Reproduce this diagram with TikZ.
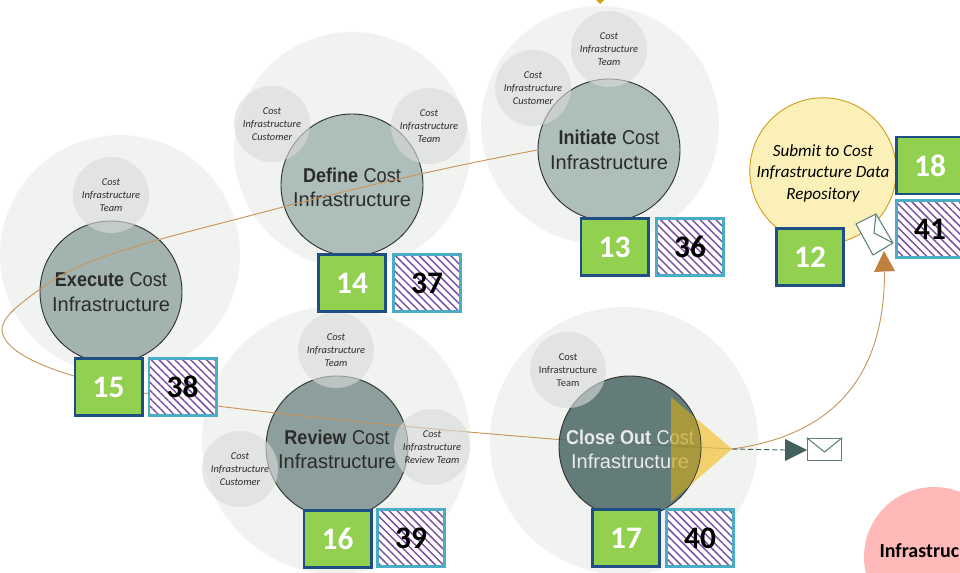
\documentclass[tikz,border=0pt]{standalone}
\usepackage{fontspec}
\setmainfont{Liberation Sans}
\newfontfamily\calib{Carlito}
\newfontfamily\narrowbold[FakeStretch=0.9]{Liberation Sans Bold}
\newfontfamily\narrowreg[FakeStretch=0.91]{Liberation Sans}
\newcommand{\headw}[1]{{\narrowbold #1}}
\newcommand{\costw}{{\narrowreg Cost}}
\usetikzlibrary{patterns.meta,shapes.geometric}
\definecolor{halo}{HTML}{F1F3F0}
\definecolor{smallc}{HTML}{D9DBD9}
\definecolor{cA}{HTML}{A3B3AF}
\definecolor{cB}{HTML}{AEBEBA}
\definecolor{cC}{HTML}{8D9F9D}
\definecolor{cD}{HTML}{637B79}
\definecolor{ink}{HTML}{2B2B2B}
\definecolor{conn}{HTML}{C8955C}
\definecolor{navy}{HTML}{1F4E85}
\definecolor{green1}{HTML}{92D050}
\definecolor{sky}{HTML}{4BACC6}
\definecolor{purp}{HTML}{7B4FA3}
\definecolor{goldl}{HTML}{F2D06B}
\definecolor{goldm}{HTML}{C8A726}
\definecolor{paley}{HTML}{FAF0B8}
\definecolor{goldd}{HTML}{D0A020}
\definecolor{teal1}{HTML}{43605F}
\definecolor{tealenv}{HTML}{5F7F7E}
\definecolor{tip}{HTML}{BF8040}
\definecolor{pinkc}{HTML}{FFB9B9}
\tikzset{
  x=0.75pt,y=-0.75pt,
  halocirc/.style={circle,fill=halo,draw=none,minimum size=#1*0.75pt,inner sep=0pt},
  maincirc/.style={circle,draw=black!80,line width=0.7pt,minimum size=106.5pt,inner sep=0pt,align=center,
     font=\fontsize{15}{18.5}\selectfont,text=ink},
  subcirc/.style={circle,fill=smallc,fill opacity=0.62,text opacity=1,draw=none,minimum size=57pt,inner sep=0pt,align=center,
     font=\calib\itshape\fontsize{7.8}{9.7}\selectfont,text=ink},
  greenbox/.style={draw=navy,fill=green1,line width=1.9pt,minimum width=50.6pt,minimum height=43pt,inner sep=0pt,
     text=white,font=\calib\bfseries\fontsize{23.5}{25}\selectfont},
  hatchbox/.style={draw=sky,line width=1.9pt,minimum width=50.6pt,minimum height=43pt,inner sep=0pt,
     preaction={fill=white},pattern={Lines[angle=-45,distance=4.2pt,line width=1.1pt]},pattern color=purp,
     text=black,font=\calib\bfseries\fontsize{23.5}{25}\selectfont},
  link/.style={draw=conn,line width=0.7pt},
  envelope/.style={draw=tealenv,fill=white,line width=0.8pt},
}
\begin{document}
\begin{tikzpicture}
\clip (0,0) rectangle (960,573);
% halos
\node[halocirc=240] (hE) at (120,255) {};
\node[halocirc=236] (hD) at (352,150) {};
\node[halocirc=238] (hI) at (600,125) {};
\node[halocirc=268] (hR) at (336,440) {};
\node[halocirc=268] (hC) at (624,441) {};
% pink circle
\node[circle,fill=pinkc,minimum size=105pt,inner sep=0pt] (pink) at (934,557) {};
\node[anchor=east,inner sep=0pt,font=\calib\bfseries\fontsize{15}{17}\selectfont,text=black] (pinktxt) at (959.5,551) {Infrastruc};
% top tip
\fill[goldd] (596,0) -- (604,0) -- (600,4) -- cycle;
% yellow triangle, below the circle it overlaps
\fill[goldl] (671,397) -- (671,502) -- (732,449) -- cycle;
\coordinate (tipY) at (732,449);
% main circles
\node[maincirc,fill=cB] (define) at (352,185) {\rule{0pt}{14.5pt}\headw{Define} \costw\\Infrastructure};
\node[maincirc,fill=cB] (initiate) at (609,150) {\headw{Initiate} \costw\\Infrastructure};
\node[maincirc,fill=cA] (execute) at (111,292) {\headw{Execute} \costw\\Infrastructure};
\node[maincirc,fill=cC] (review) at (337,447) {\rule{0pt}{14.5pt}\headw{Review} \costw\\Infrastructure};
\node[maincirc,fill=cD,text=white!92!black] (close) at (630,447) {\rule{0pt}{14.5pt}\headw{Close Out} \costw\\Infrastructure};
\begin{scope}
\clip (630,447) circle (53pt);
\fill[goldm,fill opacity=0.7] (671,397) -- (671,502) -- (732,449) -- cycle;
\end{scope}
% connector
\coordinate (w1) at (53,280);
\coordinate (w2) at (2,330);
\coordinate (w3) at (74,376);
\node[greenbox] (b15) at (108.5,387) {15};
\node[hatchbox] (h38) at (182.5,387) {38};
\draw[link] (initiate.west) .. controls (430,170) and (330,195) .. (290,205);
\draw[link] (290,205) .. controls (200,230) and (100,250) .. (w1) .. controls (25,300) and (2,315) .. (w2)
  .. controls (3,350) and (40,366) .. (w3);
\draw[link] (b15.east |- 0,393) -- (h38.west |- 0,393.5);
\coordinate (s1) at (217,406);
\draw[link] (s1) .. controls (330,420) and (440,430) .. (close.174);
\draw[black,opacity=0.12,line width=0.7pt] (close.174) -- (tipY);
% redraw boxes on the line
\node[greenbox] at (b15) {15};
\node[hatchbox] at (h38) {38};
% sub circles
\node[subcirc] (eT) at (111,195) {Cost\\Infrastructure\\Team};
\node[subcirc] (dC) at (272,124) {Cost\\Infrastructure\\Customer};
\node[subcirc] (dT) at (429,126) {Cost\\Infrastructure\\Team};
\node[subcirc] (iC) at (533,88) {Cost\\Infrastructure\\Customer};
\node[subcirc] (iT) at (609,49) {Cost\\Infrastructure\\Team};
\node[subcirc] (rT) at (336,350) {Cost\\Infrastructure\\Team};
\node[subcirc] (rC) at (240,469) {Cost\\Infrastructure\\Customer};
\node[subcirc] (rR) at (432,447) {Cost\\Infrastructure\\Review Team};
\node[subcirc,font=\calib\fontsize{7.8}{9.7}\selectfont] (cT) at (568,370) {Cost\\Infrastructure\\Team};
% boxes
\node[greenbox] (b14) at (352,283) {14};
\node[hatchbox] (h37) at (427,283) {37};
\node[greenbox] (b13) at (614.5,247) {13};
\node[hatchbox] (h36) at (690,247) {36};
\node[greenbox] (b16) at (337.5,539) {16};
\node[hatchbox] (h39) at (411,538) {39};
\node[greenbox] (b17) at (626,538) {17};
\node[hatchbox] (h40) at (700,538) {40};
% repository circle
\node[circle,fill=paley,draw=goldd,line width=0.7pt,minimum size=106.5pt,inner sep=0pt,align=center,
  font=\calib\itshape\fontsize{12.8}{16.2}\selectfont,text=black] (repo) at (823,171) {\rule{0pt}{12.5pt}Submit to Cost\\Infrastructure Data\\Repository};
\node[greenbox] (b12) at (810,257) {12};
\node[greenbox] (b18) at (930,165.5) {18};
\node[hatchbox] (h41) at (930,229) {41};
% rotated envelope
\draw[envelope] (856,224) -- (876,214) -- (893,243) -- (873,255) -- cycle;
\draw[envelope,fill=none] (876,214) -- (874,233) -- (893,243);
% arrow to repo
\coordinate (arrowT) at (884.5,272);
\draw[link] (tipY) .. controls (835,435) and (884.5,375) .. (arrowT);
\fill[tip] (884,251) -- (874,272) -- (895,271) -- cycle;
% outgoing message
\coordinate (mailT) at (785,450);
\draw[teal1,dash pattern=on 4pt off 2pt,line width=0.7pt] (tipY) -- (mailT);
\fill[teal1] (785,439) -- (785,461) -- (807,450) -- cycle;
\node[draw=tealenv,fill=white,line width=0.8pt,minimum width=26pt,minimum height=17pt,inner sep=0pt] (mail) at (824.5,449.5) {};
\draw[tealenv,line width=0.8pt] (mail.north west) -- (824.5,452) -- (mail.north east);
\end{tikzpicture}
\end{document}
